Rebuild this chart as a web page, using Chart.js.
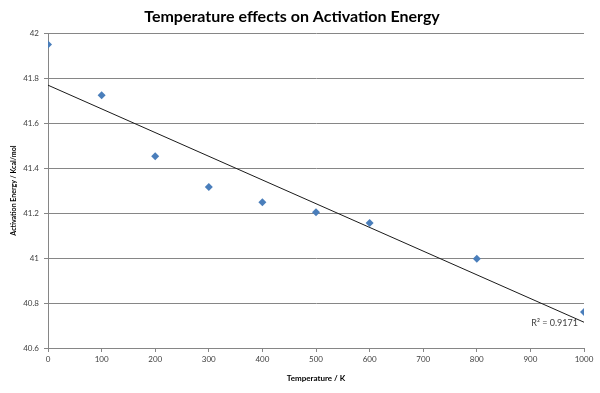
<!DOCTYPE html>
<html>
<head>
<meta charset="utf-8">
<script src="https://cdn.jsdelivr.net/npm/chart.js@4"></script>
<style>
  html, body { margin: 0; padding: 0; background: #fff; }
</style>
</head>
<body>
<canvas id="chart" width="600" height="393"></canvas>
<script>
var temperatures = [0, 100, 200, 300, 400, 500, 600, 800, 1000];
var energies = [41.95, 41.724, 41.453, 41.316, 41.248, 41.204, 41.156, 40.997, 40.76];
var r2Label = "R\u00b2 = 0.9171";

// least squares trendline from the points (like Excel's linear trendline)
var n = temperatures.length, sx = 0, sy = 0, sxx = 0, sxy = 0;
for (var i = 0; i < n; i++) {
  sx += temperatures[i]; sy += energies[i];
  sxx += temperatures[i]*temperatures[i]; sxy += temperatures[i]*energies[i];
}
var slope = (n*sxy - sx*sy) / (n*sxx - sx*sx);
var icpt = (sy - slope*sx) / n;
var trendX = [0, 1000];

var points = temperatures.map(function(t, i) { return {x: t, y: energies[i]}; });
var trend = trendX.map(function(t) { return {x: t, y: icpt + slope*t}; });

var fontFam = "Lato, 'Open Sans', sans-serif";

var r2Plugin = {
  id: "r2",
  afterDatasetsDraw: function(chart) {
    var ctx = chart.ctx;
    var xs = chart.scales.x, ys = chart.scales.y;
    ctx.save();
    ctx.font = "9px " + fontFam;
    ctx.fillStyle = "#404040";
    ctx.textAlign = "right";
    ctx.textBaseline = "middle";
    ctx.fillText(r2Label, xs.getPixelForValue(1000) - 6, ys.getPixelForValue(icpt + slope*1000) + 1);
    ctx.restore();
  }
};

new Chart(document.getElementById("chart"), {
  type: "scatter",
  data: {
    datasets: [{
      data: points,
      pointStyle: "rectRot",
      pointRadius: 4,
      pointHoverRadius: 4,
      backgroundColor: "#4a7ebb",
      borderColor: "#4a7ebb",
      borderWidth: 0,
      showLine: false
    }, {
      data: trend,
      showLine: true,
      pointRadius: 0,
      borderColor: "#1a1a1a",
      borderWidth: 1,
      fill: false
    }]
  },
  options: {
    responsive: false,
    animation: false,
    layout: { padding: { top: 0, right: 16, bottom: 0, left: 0 } },
    plugins: {
      legend: { display: false },
      tooltip: { enabled: false },
      title: {
        display: true,
        text: "Temperature effects on Activation Energy",
        color: "#000",
        font: { family: fontFam, size: 16, weight: "bold" },
        padding: { top: 7, bottom: 7 }
      }
    },
    scales: {
      x: {
        type: "linear",
        min: 0, max: 1000,
        ticks: { stepSize: 100, maxRotation: 0, color: "#404040", font: { family: fontFam, size: 8 }, padding: 3,
          callback: function(v) { return String(v); } },
        grid: { display: true, drawOnChartArea: false, drawTicks: true, tickLength: 4, tickColor: "#868686" },
        border: { color: "#868686", width: 1 },
        title: { display: true, text: "Temperature / K", color: "#000", font: { family: fontFam, size: 8, weight: "bold" }, padding: { top: 0, bottom: 10 } },
        afterFit: function(s) { s.height = 45; }
      },
      y: {
        min: 40.6, max: 42,
        ticks: { stepSize: 0.2, color: "#404040", font: { family: fontFam, size: 8 }, padding: 5,
          callback: function(v) { return String(Math.round(v*10)/10); } },
        grid: { color: "#868686", lineWidth: 1, tickLength: 4 },
        border: { color: "#868686", width: 1 },
        title: { display: true, text: "Activation Energy / Kcal/mol", color: "#000", font: { family: fontFam, size: 7, weight: "bold" }, padding: { top: 10, bottom: 0 } },
        afterFit: function(s) { s.width = 48; }
      }
    }
  },
  plugins: [r2Plugin]
});
</script>
</body>
</html>
